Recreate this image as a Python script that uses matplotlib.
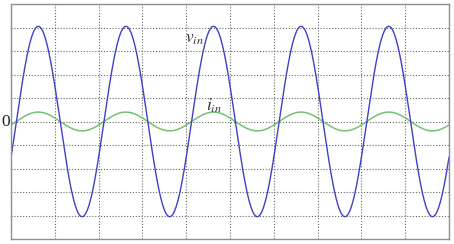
import numpy as np
import matplotlib
matplotlib.use("Agg")
import matplotlib.pyplot as plt

# Values (grid units: 10 x-divisions, y from -5 to 5)
x_limits = [0, 10]
y_limits = [-5, 5]
v_amplitude = 4.05      # v_in peak
i_amplitude = 0.40      # i_in peak
period = 2.0            # divisions per cycle
phase_shift = 0.123     # first upward zero crossing (divisions)
labels = ["$v_{in}$", "$i_{in}$"]
label_pos = [(3.98, 3.35), (4.45, 0.45)]

plt.rcParams["mathtext.fontset"] = "stix"
plt.rcParams["font.family"] = ["Liberation Serif", "DejaVu Serif"]

t = np.linspace(x_limits[0], x_limits[1], 2000)
v_in = v_amplitude * np.sin(2 * np.pi * (t - phase_shift) / period)
i_in = i_amplitude * np.sin(2 * np.pi * (t - phase_shift) / period)

fig = plt.figure(figsize=(4.54, 2.44), dpi=100)
ax = fig.add_axes([11 / 454, 5 / 244, 438 / 454, 235 / 244])
ax.plot(t, i_in, color="#72c272", lw=1.1)
ax.plot(t, v_in, color="#4040c8", lw=1.0)

ax.set_xlim(x_limits)
ax.set_ylim(y_limits)
ax.set_xticks(np.arange(0, 11, 1))
ax.set_yticks(np.arange(-5, 6, 1))
ax.tick_params(length=0, labelbottom=False, labelleft=False)
ax.grid(True, linestyle=(0, (1.0, 1.6)), color="#666666", lw=0.8)
for s in ax.spines.values():
    s.set_color("#909090")
    s.set_linewidth(1.0)

ax.text(-0.03, 0, "0", ha="right", va="center", fontsize=12.5, color="#222222")
for lab, (px, py) in zip(labels, label_pos):
    ax.text(px, py, lab, fontsize=12.5, color="#333333", ha="left", va="baseline")

fig.savefig("out.png", dpi=100)
